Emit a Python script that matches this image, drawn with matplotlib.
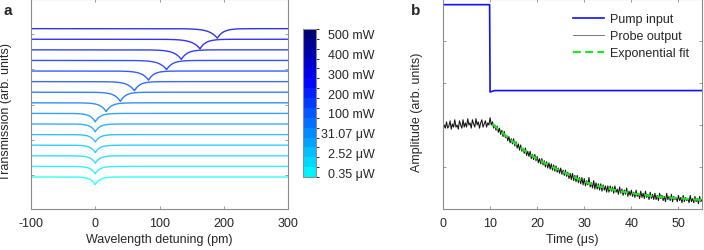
import numpy as np
import matplotlib.pyplot as plt
from matplotlib.colors import LinearSegmentedColormap, ListedColormap, BoundaryNorm
from matplotlib.cm import ScalarMappable

plt.rcParams['font.family'] = ['Liberation Sans', 'DejaVu Sans']
plt.rcParams['font.size'] = 9
plt.rcParams['axes.unicode_minus'] = False

# ---- panel a: thermal shift of the resonance (bottom trace -> top trace)
dip_center = [0, 0, 0, 0, 0, 0, 0, 17, 39, 61, 83, 111, 134, 163, 190]   # pm
dip_depth = [0.22, 0.21, 0.21, 0.21, 0.21, 0.22, 0.24, 0.25, 0.26, 0.26,
             0.26, 0.26, 0.27, 0.27, 0.27]
width_left = [7, 7, 7, 7, 7, 7, 7.5, 8.5, 9, 10, 10, 11, 11, 12, 12]      # pm
width_right = [7, 7, 7, 7, 7, 7, 7.5, 8, 8, 8, 8, 9, 9, 9, 9]            # pm
power_labels = ['0.35 \u03bcW', '2.52 \u03bcW', '31.07 \u03bcW', '100 mW',
                '200 mW', '300 mW', '400 mW', '500 mW']

# ---- panel b: pump / probe time traces
pump_t = [0, 9.9, 10.0, 10.5, 11, 55]
pump_v = [0.973, 0.973, 0.557, 0.561, 0.564, 0.564]

probe_t = np.arange(0, 55.001, 0.25)
probe_v = [
    # 0 - 4.75 us
    0.375, 0.40, 0.385, 0.415, 0.385, 0.395, 0.42, 0.38, 0.405, 0.39,
    0.425, 0.39, 0.40, 0.38, 0.42, 0.40, 0.385, 0.425, 0.39, 0.41,
    # 5 - 9.75
    0.39, 0.43, 0.40, 0.41, 0.385, 0.425, 0.405, 0.39, 0.43, 0.40,
    0.415, 0.385, 0.41, 0.425, 0.39, 0.405, 0.42, 0.39, 0.41, 0.40,
    # 10 - 14.75
    0.435, 0.40, 0.415, 0.385, 0.40, 0.375, 0.395, 0.365, 0.385, 0.355,
    0.375, 0.345, 0.37, 0.34, 0.35, 0.325, 0.345, 0.315, 0.335, 0.31,
    # 15 - 19.75
    0.335, 0.30, 0.32, 0.29, 0.31, 0.28, 0.305, 0.275, 0.29, 0.265,
    0.29, 0.255, 0.275, 0.25, 0.275, 0.24, 0.26, 0.235, 0.26, 0.23,
    # 20 - 24.75
    0.25, 0.22, 0.24, 0.215, 0.24, 0.21, 0.23, 0.20, 0.225, 0.195,
    0.22, 0.19, 0.215, 0.185, 0.21, 0.18, 0.205, 0.175, 0.195, 0.17,
    # 25 - 29.75
    0.195, 0.165, 0.185, 0.16, 0.185, 0.155, 0.175, 0.145, 0.17, 0.14,
    0.17, 0.135, 0.16, 0.13, 0.16, 0.125, 0.15, 0.12, 0.15, 0.115,
    # 30 - 34.75
    0.145, 0.11, 0.135, 0.115, 0.15, 0.105, 0.125, 0.10, 0.135, 0.095,
    0.125, 0.095, 0.12, 0.09, 0.12, 0.085, 0.115, 0.09, 0.11, 0.08,
    # 35 - 39.75
    0.11, 0.08, 0.11, 0.085, 0.105, 0.075, 0.11, 0.08, 0.095, 0.07,
    0.105, 0.075, 0.095, 0.065, 0.09, 0.07, 0.10, 0.06, 0.085, 0.065,
    # 40 - 44.75
    0.09, 0.06, 0.08, 0.055, 0.09, 0.06, 0.075, 0.05, 0.085, 0.055,
    0.075, 0.05, 0.085, 0.055, 0.07, 0.045, 0.08, 0.05, 0.07, 0.045,
    # 45 - 49.75
    0.075, 0.045, 0.065, 0.04, 0.075, 0.05, 0.065, 0.04, 0.06, 0.035,
    0.075, 0.045, 0.06, 0.04, 0.07, 0.035, 0.06, 0.045, 0.055, 0.035,
    # 50 - 55
    0.065, 0.04, 0.055, 0.03, 0.065, 0.035, 0.055, 0.04, 0.05, 0.03,
    0.065, 0.035, 0.05, 0.03, 0.06, 0.035, 0.05, 0.025, 0.06, 0.035,
    0.045,
]

fit_t = [10.5, 12.5, 15, 17.5, 20, 22.5, 25, 27.5, 30, 32.5, 35, 37.5, 40,
         42.5, 45, 47.5, 50, 52.5, 55]
fit_v = [0.405, 0.365, 0.318, 0.275, 0.238, 0.208, 0.182, 0.155, 0.130,
         0.112, 0.098, 0.085, 0.075, 0.067, 0.060, 0.055, 0.051, 0.047, 0.043]

spine_col = '#8c8c8c'
text_col = '#262626'

cmap = LinearSegmentedColormap.from_list(
    'cb', [(0, '#00ffff'), (0.65, '#0000ff'), (1, '#000068')])
n_tr = len(dip_center)
bands = ListedColormap([cmap((k + 0.5) / n_tr) for k in range(n_tr)])

fig = plt.figure(figsize=(7.04, 2.51), dpi=100)
ax_a = fig.add_axes([31 / 704, 41 / 251, 257 / 704, 210 / 251])
ax_b = fig.add_axes([443 / 704, 41 / 251, 259 / 704, 210 / 251])
cax = fig.add_axes([303 / 704, 73 / 251, 13 / 704, 148 / 251])


def style_axes(ax):
    for s in ax.spines.values():
        s.set_color(spine_col)
        s.set_linewidth(0.8)
    ax.tick_params(direction='in', length=2.5, width=0.6, color=spine_col,
                   labelcolor=text_col, top=True, right=True, pad=5.5)


# panel a
x = np.linspace(-100, 300, 4001)
for i in range(n_tr):
    dx = x - dip_center[i]
    w = np.where(dx < 0, width_left[i], width_right[i])
    y = 0.95 + 0.3 * i - dip_depth[i] * np.exp(-np.abs(dx) / w)
    ax_a.plot(x, y, color=cmap(i / (n_tr - 1) * 0.72), lw=1.0, alpha=0.8)
ax_a.set_xlim(-100, 300)
ax_a.set_ylim(0.043, 5.99)
ax_a.set_xticks([-100, 0, 100, 200, 300])
ax_a.set_yticks([1, 2, 3, 4, 5])
ax_a.set_yticklabels([])
style_axes(ax_a)
ax_a.set_xlabel('Wavelength detuning (pm)', color=text_col)
ax_a.set_ylabel('Transmission (arb. units)', color=text_col)
ax_a.xaxis.set_label_coords(0.5, -0.115)
ax_a.yaxis.set_label_coords(-0.074, 0.467)

# colorbar
norm = BoundaryNorm(np.arange(n_tr + 1), n_tr)
cb = fig.colorbar(ScalarMappable(norm=norm, cmap=bands), cax=cax)
cb.outline.set_edgecolor(spine_col)
cb.outline.set_linewidth(0.8)
cb.set_ticks(np.arange(0.5, n_tr, 2))
cb.set_ticklabels(power_labels)
cax.tick_params(length=0, pad=42, labelsize=9, labelcolor=text_col)
for lab in cax.get_yticklabels():
    lab.set_ha('right')

# panel b
ax_b.plot(pump_t, pump_v, color='#1010ff', lw=1.2, label='Pump input')
ax_b.plot(probe_t, probe_v, color='#111111', lw=0.75, label='Probe output')
ax_b.plot(fit_t, fit_v, color='#1ee61e', lw=1.6, ls=(0, (3.5, 2)),
          label='Exponential fit')
ax_b.set_xlim(0, 55)
ax_b.set_ylim(0, 1)
ax_b.set_xticks([0, 10, 20, 30, 40, 50])
ax_b.set_yticks([0, 0.2, 0.4, 0.6, 0.8, 1.0])
ax_b.set_yticklabels([])
style_axes(ax_b)
ax_b.set_xlabel('Time (\u03bcs)', color=text_col)
ax_b.set_ylabel('Amplitude (arb. units)', color=text_col)
ax_b.xaxis.set_label_coords(0.5, -0.115)
ax_b.yaxis.set_label_coords(-0.077, 0.467)
leg = ax_b.legend(loc='upper left', bbox_to_anchor=(573 / 704, 1 - 14 / 251),
                  bbox_transform=fig.transFigure, frameon=False, borderpad=0,
                  borderaxespad=0, handlelength=2.5, handletextpad=0.5,
                  labelspacing=0.42, fontsize=9)
leg.legend_handles[1].set_color('0.5')
for t in leg.get_texts():
    t.set_color(text_col)

fig.text(3 / 704, 1 - 11 / 251, 'a', fontsize=11, fontweight='bold',
         color=text_col, va='center')
fig.text(411 / 704, 1 - 11 / 251, 'b', fontsize=11, fontweight='bold',
         color=text_col, va='center')

fig.savefig('out.png', dpi=100)
